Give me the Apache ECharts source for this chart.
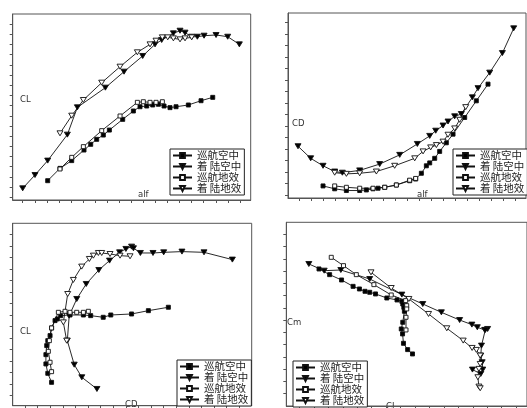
<!DOCTYPE html>
<html><head><meta charset="utf-8">
<script src="https://cdn.jsdelivr.net/npm/echarts@6/dist/echarts.min.js"></script>
<style>html,body{margin:0;padding:0;background:#fff}#c{width:527px;height:408px}</style>
</head><body><div id="c"></div>
<script>
// series names
const names = ['巡航空中','着 陆空中','巡航地效','着 陆地效'];

// ---- Panel 1: CL vs alf ----
const p1_alf_ca = [-3.86,-1.82,0.12,2.16,3.27,4.26,5.36,6.36,8.57,10.34,11.44,12.55,13.54,14.48,15.42,16.41,17.41,19.45,21.55,23.49];
const p1_CL_ca  = [-0.037,0.084,0.16,0.264,0.32,0.369,0.411,0.46,0.565,0.647,0.689,0.696,0.706,0.713,0.696,0.68,0.689,0.706,0.748,0.781];
const p1_alf_la = [-8,-5.96,-3.86,-0.6,1.06,5.7,8.79,11.88,13.93,15.03,16.97,18.07,18.9,20,20.94,22.05,24.04,25.97,27.9];
const p1_CL_la  = [-0.112,0.019,0.16,0.415,0.683,0.876,1.033,1.187,1.301,1.344,1.409,1.435,1.416,1.376,1.376,1.386,1.393,1.376,1.301];
const p1_alf_cg = [-1.82,0.12,2.05,5.09,8.13,11.0,11.99,13.1,14.09,15.14];
const p1_CL_cg  = [0.078,0.192,0.297,0.454,0.598,0.732,0.738,0.732,0.732,0.738];
const p1_alf_lg = [-1.82,0.12,2.05,5.09,8.13,11.0,13.1,14.09,15.14,16.03,16.97,18.07,18.9,20.0];
const p1_CL_lg  = [0.428,0.601,0.755,0.925,1.082,1.223,1.301,1.337,1.37,1.37,1.36,1.35,1.36,1.37];

// ---- Panel 2: CD vs alf ----
const p2_alf_ca = [-4.11,-2.17,-0.22,2.0,3.11,4.22,5.06,6.17,8.11,10.33,11.33,12.28,13.11,13.67,14.5,15.33,16.44,17.56,19.5,21.44,23.39];
const p2_CD_ca  = [0.036,0.031,0.028,0.028,0.029,0.031,0.032,0.0336,0.0376,0.045,0.048,0.058,0.071,0.076,0.084,0.096,0.111,0.126,0.155,0.184,0.213];
const p2_alf_la = [-8.28,-6.17,-4.11,-2.17,-0.89,2.0,5.33,8.67,11.61,13.67,14.67,15.89,16.72,17.83,18.94,20.78,21.72,23.67,25.78,27.67];
const p2_CD_la  = [0.105,0.084,0.071,0.061,0.059,0.063,0.074,0.090,0.109,0.123,0.132,0.141,0.148,0.157,0.161,0.19,0.206,0.233,0.267,0.310];
const p2_alf_cg = [-2.17,-0.22,2.0,4.22,6.17,8.11,10.33,11.33];
const p2_CD_cg  = [0.036,0.0336,0.032,0.032,0.0336,0.0376,0.046,0.049];
const p2_alf_lg = [-2.17,-0.22,2.0,4.78,7.83,11.17,12.56,13.83,14.78,15.89,16.72,17.83,18.67,19.67];
const p2_CD_lg  = [0.059,0.057,0.058,0.061,0.071,0.084,0.096,0.103,0.107,0.113,0.125,0.136,0.151,0.173];

// ---- Panel 3: CL vs CD ----
const p3_CD_ca = [0.022,0.016,0.013,0.013,0.0143,0.016,0.0196,0.022,0.0275,0.0312,0.0365,0.0513,0.0725,0.0841,0.104,0.116,0.149,0.1757,0.2074];
const p3_CL_ca = [-0.109,-0.011,0.091,0.192,0.29,0.344,0.399,0.482,0.562,0.58,0.616,0.623,0.623,0.616,0.598,0.623,0.634,0.670,0.707];
const p3_CD_la = [0.094,0.070,0.058,0.047,0.050,0.062,0.077,0.097,0.114,0.130,0.140,0.149,0.152,0.163,0.183,0.200,0.229,0.264,0.309];
const p3_CL_la = [-0.181,-0.054,0.083,0.344,0.616,0.797,0.960,1.112,1.214,1.304,1.341,1.366,1.348,1.297,1.297,1.304,1.312,1.304,1.225];
const p3_CD_cg = [0.022,0.0196,0.0169,0.0185,0.022,0.0328,0.0434,0.0513,0.0619,0.0725,0.0804];
const p3_CL_cg = [0.007,0.109,0.228,0.344,0.482,0.652,0.663,0.652,0.652,0.652,0.663];
const p3_CD_lg = [0.046,0.0407,0.0476,0.0566,0.0698,0.082,0.0884,0.0963,0.1016,0.1148,0.1307,0.1466];
const p3_CL_lg = [0.344,0.543,0.851,1.004,1.149,1.232,1.268,1.297,1.297,1.286,1.268,1.261];

// ---- Panel 4: Cm vs CL ----
const p4_CL_ca = [0.044,0.136,0.239,0.339,0.394,0.442,0.483,0.533,0.631,0.719,0.761,0.769,0.778,0.783,0.769,0.756,0.767,0.775,0.811,0.853];
const p4_Cm_ca = [0.1034,0.0941,0.0854,0.075,0.0707,0.0669,0.0653,0.0626,0.0560,0.0528,0.0506,0.0462,0.0408,0.0343,0.0163,0.0054,-0.0027,-0.0180,-0.0283,-0.0354];
const p4_CL_la = [-0.044,0.089,0.233,0.483,0.761,0.942,1.103,1.261,1.367,1.414,1.478,1.503,1.483,1.45,1.444,1.456,1.461,1.444,1.372];
const p4_Cm_la = [0.1115,0.1006,0.1017,0.087,0.0615,0.0462,0.0326,0.020,0.0125,0.0082,0.0038,0.0054,0.0038,-0.0218,-0.0381,-0.049,-0.0609,-0.068,-0.0609];
const p4_CL_cg = [0.15,0.256,0.367,0.519,0.669,0.794,0.803,0.803,0.797,0.797];
const p4_Cm_cg = [0.1224,0.1088,0.0941,0.0778,0.0609,0.0517,0.0435,0.0381,0.0245,0.0038];
const p4_CL_lg = [0.494,0.669,0.822,0.992,1.150,1.292,1.369,1.406,1.439,1.439,1.428,1.419,1.428,1.439];
const p4_Cm_lg = [0.0979,0.0723,0.0544,0.0299,0.0065,-0.0136,-0.0256,-0.0288,-0.0381,-0.0517,-0.0598,-0.0734,-0.0887,-0.0914];

// tick values
const ticksAlf = [-8,-6,-4,-2,0,2,4,6,8,10,12,14,16,18,20,22,24,26,28];
const ticksCL1 = [-0.2,-0.1,0,0.1,0.2,0.3,0.4,0.5,0.6,0.7,0.8,0.9,1.0,1.1,1.2,1.3,1.4,1.5];
const ticksCD2 = [0.02,0.04,0.06,0.08,0.10,0.12,0.14,0.16,0.18,0.20,0.22,0.24,0.26,0.28,0.30,0.32];
const ticksCD3 = [-0.02,0,0.02,0.04,0.06,0.08,0.10,0.12,0.14,0.16,0.18,0.20,0.22,0.24,0.26,0.28,0.30,0.32];
const ticksCL3 = [-0.25,-0.125,0,0.125,0.25,0.375,0.5,0.625,0.75,0.875,1.0,1.125,1.25,1.375,1.5];
const ticksCL4 = [-0.125,0,0.125,0.25,0.375,0.5,0.625,0.75,0.875,1.0,1.125,1.25,1.375,1.5,1.625,1.75];
const ticksCm4 = [-0.10,-0.08,-0.06,-0.04,-0.02,0,0.02,0.04,0.06,0.08,0.10,0.12,0.14,0.16];

const zip = (a,b) => a.map((v,i)=>[v,b[i]]);
const DOWN = 'path://M0,0L10,0L5,9Z';
const styles = [
  {symbol:'rect', symbolSize:4, fill:'#000'},
  {symbol:DOWN, symbolSize:[6,5], fill:'#000'},
  {symbol:'rect', symbolSize:4, fill:'#fff'},
  {symbol:DOWN, symbolSize:[6,5], fill:'#fff'}
];
function mk(k, gi, x, y){
  const s = styles[k];
  return {name:names[k], type:'line', xAxisIndex:gi, yAxisIndex:gi, data:zip(x,y),
    symbol:s.symbol, symbolSize:s.symbolSize, showSymbol:true, animation:false,
    lineStyle:{color:'#111', width:0.9}, itemStyle:{color:s.fill, borderColor:'#111', borderWidth:0.9},
    emphasis:{disabled:true}, z:3};
}
const axLine = {show:true, onZero:false, lineStyle:{color:'#555', width:1}};
function ax(gi,min,max,ticks){return {gridIndex:gi,type:'value',min,max,axisLine:axLine,
  axisTick:{show:true,inside:false,length:3,lineStyle:{color:'#555'},customValues:ticks},
  axisLabel:{show:false,customValues:ticks},splitLine:{show:false}};}
const gridBase = {show:true, borderColor:'#555', borderWidth:1, backgroundColor:'rgba(0,0,0,0)', containLabel:false};
function lg(left,top){return {orient:'vertical', left, top, data:names, selectedMode:false,
  backgroundColor:'#fff', borderColor:'#222', borderWidth:1, padding:[1,3,1,2], itemGap:0,
  itemWidth:19, itemHeight:6, textStyle:{fontFamily:'Noto Sans CJK SC', fontSize:10.5, color:'#222', lineHeight:11}};}
const txt = (l,t,s) => ({type:'text', left:l, top:t, style:{text:s, fontFamily:'DejaVu Sans', fontSize:8.5, fill:'#333'}});

const chart = echarts.init(document.getElementById('c'), null, {renderer:'canvas'});
chart.setOption({
  animation:false,
  grid:[
    Object.assign({left:12.7, top:14, width:238, height:186}, gridBase),
    Object.assign({left:288, top:13, width:238, height:185}, gridBase),
    Object.assign({left:12.7, top:223.3, width:239, height:182.4}, gridBase),
    Object.assign({left:286.3, top:222.3, width:250, height:183.7}, gridBase)
  ],
  xAxis:[ax(0,-9.657,29.78,ticksAlf), ax(1,-9.95,29.72,ticksAlf), ax(2,-0.0397,0.3397,ticksCD3), ax(3,-0.239,1.844,ticksCL4)],
  yAxis:[ax(0,-0.2265,1.599,ticksCL1), ax(1,0.015,0.3367,ticksCD2), ax(2,-0.363,1.6196,ticksCL3), ax(3,-0.1204,0.1796,ticksCm4)],
  legend:[lg(170,149), lg(453,149), lg(177,360), lg(293,361)],
  graphic:[txt(20,95,'CL'), txt(138,190,'alf'), txt(292,119,'CD'), txt(417,190,'alf'),
           txt(20,327,'CL'), txt(125,400,'CD'), txt(287,318,'Cm'), txt(386,402,'CL')],
  series:[
    mk(0,0,p1_alf_ca,p1_CL_ca), mk(1,0,p1_alf_la,p1_CL_la), mk(2,0,p1_alf_cg,p1_CL_cg), mk(3,0,p1_alf_lg,p1_CL_lg),
    mk(0,1,p2_alf_ca,p2_CD_ca), mk(1,1,p2_alf_la,p2_CD_la), mk(2,1,p2_alf_cg,p2_CD_cg), mk(3,1,p2_alf_lg,p2_CD_lg),
    mk(0,2,p3_CD_ca,p3_CL_ca), mk(1,2,p3_CD_la,p3_CL_la), mk(2,2,p3_CD_cg,p3_CL_cg), mk(3,2,p3_CD_lg,p3_CL_lg),
    mk(0,3,p4_CL_ca,p4_Cm_ca), mk(1,3,p4_CL_la,p4_Cm_la), mk(2,3,p4_CL_cg,p4_Cm_cg), mk(3,3,p4_CL_lg,p4_Cm_lg)
  ]
});
</script></body></html>
